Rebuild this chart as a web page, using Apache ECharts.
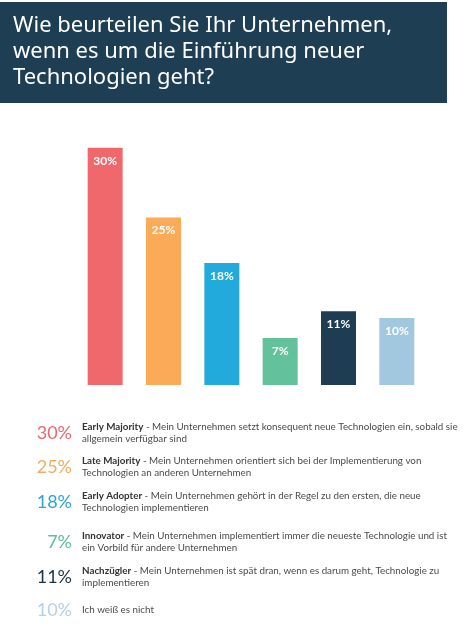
<!DOCTYPE html>
<html>
<head>
<meta charset="utf-8">
<script src="https://cdn.jsdelivr.net/npm/echarts@6/dist/echarts.min.js"></script>
<style>
html,body{margin:0;padding:0;background:#fff;}
#chart{width:468px;height:630px;}
</style>
</head>
<body>
<div id="chart"></div>
<script>
var titleLines=['Wie beurteilen Sie Ihr Unternehmen,','wenn es um die Einführung neuer','Technologien geht?'];
var categories=['Early Majority','Late Majority','Early Adopter','Innovator','Nachzügler','Ich weiß es nicht'];
// bar heights as drawn in the picture (first bar is drawn taller than its label)
var barValues=[35.4,25,18.2,7,11,10];
var barLabels=['30%','25%','18%','7%','11%','10%'];
var barColors=['#f0686c','#fbab58','#22aadc','#63c29b','#1e3c52','#a2c8e0'];
var pctColors=['#e8696d','#f5ac5f','#2aa6d6','#5fbf96','#1e3345','#b3d2e6'];
var descriptions=[
    ' - Mein Unternehmen setzt konsequent neue Technologien ein, sobald sie\nallgemein verfügbar sind',
    ' - Mein Unternehmen orientiert sich bei der Implementierung von\nTechnologien an anderen Unternehmen',
    ' - Mein Unternehmen gehört in der Regel zu den ersten, die neue\nTechnologien implementieren',
    ' - Mein Unternehmen implementiert immer die neueste Technologie und ist\nein Vorbild für andere Unternehmen',
    ' - Mein Unternehmen ist spät dran, wenn es darum geht, Technologie zu\nimplementieren',
    ''
];
var rowY=[433,467,502,542,577,610];

var font='Lato, "Noto Sans", sans-serif';
var titleFont='"Noto Sans", Lato, sans-serif';
var chart=echarts.init(document.getElementById('chart'));

var graphics=[
    {type:'rect',left:0,top:2,shape:{width:447,height:101},style:{fill:'#1e3e54'},z:0}
];
for(let i=0;i<titleLines.length;i++){
    graphics.push({
        type:'text',x:13,y:26+i*26,z:2,
        style:{text:titleLines[i],fill:'#ffffff',font:'22px '+titleFont,verticalAlign:'middle'}
    });
}
for(let i=0;i<categories.length;i++){
    graphics.push({
        type:'text',x:72,y:rowY[i],
        style:{text:barLabels[i],fill:pctColors[i],font:'18px '+font,align:'right',verticalAlign:'middle'}
    });
    var txt;
    if(descriptions[i]){
        var parts=descriptions[i].split('\n');
        txt='{b|'+categories[i]+'}{n|'+parts[0]+'}\n{n|'+parts[1]+'}';
    }else{
        txt='{n|'+categories[i]+'}';
    }
    graphics.push({
        type:'text',x:82,y:rowY[i],
        style:{
            text:txt,verticalAlign:'middle',
            rich:{
                b:{fontFamily:font,fontSize:9.8,fontWeight:'bold',fill:'#333',lineHeight:12.5},
                n:{fontFamily:font,fontSize:9.8,fill:'#4a4a4a',lineHeight:12.5}
            }
        }
    });
}

var option={
    animation:false,
    grid:{left:76,right:42,top:117,bottom:245},
    xAxis:{
        type:'category',
        data:categories,
        axisLine:{show:false},
        axisTick:{show:false},
        axisLabel:{show:false}
    },
    yAxis:{
        type:'value',
        min:0,
        max:40,
        show:false,
        splitLine:{show:false}
    },
    series:[{
        type:'bar',
        barWidth:35,
        data:barValues.map(function(v,i){
            return {value:v,itemStyle:{color:barColors[i]}};
        }),
        label:{
            show:true,
            position:'insideTop',
            distance:7,
            color:'#fff',
            fontFamily:font,
            fontSize:12,
            fontWeight:'bold',
            formatter:function(p){return barLabels[p.dataIndex];}
        }
    }],
    graphic:graphics
};
chart.setOption(option);
</script>
</body>
</html>
